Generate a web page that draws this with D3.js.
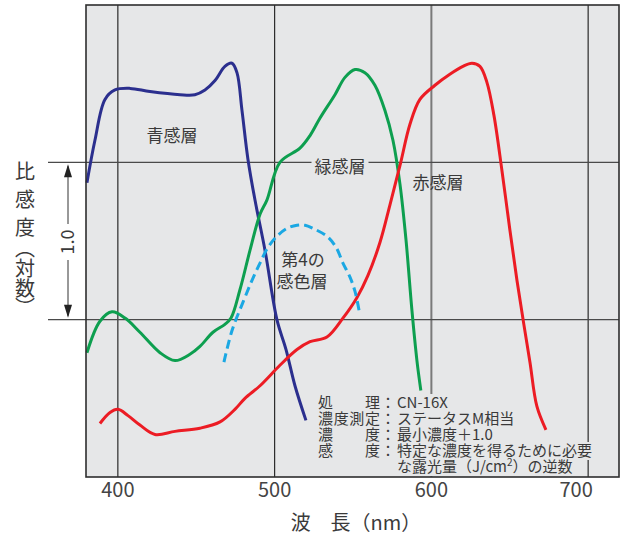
<!DOCTYPE html>
<html>
<head>
<meta charset="utf-8">
<script src="https://cdn.jsdelivr.net/npm/d3@7"></script>
<style>
body { margin: 0; background: #fff; }
text { font-family: "Noto Sans CJK JP", "Noto Sans", sans-serif; fill: #3a3a3a; }
</style>
</head>
<body>
<div id="chart"></div>
<script>
// 波長 (nm) と 比感度 (対数) の読み取り値
var blueNm = [380.6, 385.7, 392.1, 398.5, 408.1, 420.8, 440.0, 449.5, 455.9, 462.3, 468.6, 473.1, 476.3, 479.5, 483.3, 487.8, 494.2, 501.8, 507.6, 513.3, 520.3];
var blueVal = [1.87, 2.14, 2.40, 2.46, 2.47, 2.45, 2.43, 2.43, 2.46, 2.52, 2.61, 2.63, 2.57, 2.33, 2.02, 1.76, 1.44, 1.00, 0.81, 0.58, 0.36];

var greenNm = [380.6, 388.9, 396.6, 404.9, 414.4, 427.2, 436.8, 446.3, 452.7, 461.0, 468.6, 472.5, 478.2, 484.6, 491.0, 495.4, 503.7, 516.5, 522.9, 529.2, 538.8, 545.2, 551.6, 557.9, 564.3, 570.7, 575.8, 580.3, 584.1, 587.9, 591.1, 593.6];
var greenVal = [0.79, 0.99, 1.05, 1.01, 0.92, 0.79, 0.74, 0.78, 0.83, 0.92, 0.97, 1.01, 1.19, 1.44, 1.67, 1.76, 2.00, 2.09, 2.17, 2.28, 2.43, 2.54, 2.59, 2.57, 2.49, 2.33, 2.14, 1.86, 1.51, 1.06, 0.74, 0.55];

var redNm = [388.9, 395.3, 400.4, 406.8, 414.4, 424.0, 436.8, 452.7, 465.5, 475.0, 481.4, 491.0, 503.7, 514.6, 522.9, 533.7, 543.9, 552.8, 559.8, 567.5, 573.9, 580.3, 586.6, 593.0, 602.6, 612.1, 620.4, 626.2, 631.3, 635.7, 640.2, 645.3, 650.4, 654.9, 659.3, 663.2, 667.6, 673.4];
var redVal = [0.34, 0.41, 0.43, 0.39, 0.33, 0.27, 0.29, 0.31, 0.35, 0.43, 0.50, 0.58, 0.71, 0.81, 0.86, 0.89, 1.01, 1.14, 1.28, 1.49, 1.73, 1.98, 2.24, 2.40, 2.49, 2.56, 2.61, 2.63, 2.61, 2.51, 2.30, 1.95, 1.57, 1.25, 0.97, 0.73, 0.45, 0.30];

var fourthNm = [468.0, 473.1, 480.1, 485.9, 491.0, 496.1, 501.8, 508.2, 514.6, 519.7, 524.8, 533.7, 539.5, 543.9, 548.4, 551.6, 554.7];
var fourthVal = [0.73, 0.93, 1.11, 1.25, 1.36, 1.46, 1.53, 1.58, 1.60, 1.60, 1.58, 1.53, 1.46, 1.36, 1.27, 1.18, 1.03];

var xTicks = [400, 500, 600, 700];
var yGrid = [1, 2];

var noteLabels = ["処理", "濃度測定", "濃度", "感度", ""];
var noteValues = ["CN-16X", "ステータスM相当", "最小濃度＋1.0", "特定な濃度を得るために必要", "な露光量（J/cm²）の逆数"];

// SVG 設定
var W = 622, H = 540;
var margin = { top: 5, right: 3, bottom: 63, left: 86 };
var width = W - margin.left - margin.right;
var height = H - margin.top - margin.bottom;
var bg = "#e6e7e8";

var svg = d3.select("#chart").append("svg")
    .attr("width", W)
    .attr("height", H);

var x = d3.scaleLinear().domain([380, 720]).range([margin.left, margin.left + width]);
var y = d3.scaleLinear().domain([0, 3]).range([margin.top + height, margin.top]);

// 背景
svg.append("rect")
    .attr("x", x(380)).attr("y", y(3))
    .attr("width", width).attr("height", height)
    .attr("fill", bg);

// 縦のグリッド
svg.append("g")
    .attr("transform", "translate(0," + y(0) + ")")
    .call(d3.axisBottom(x).tickValues(xTicks).tickSize(-height).tickFormat(""))
    .call(g => g.select(".domain").remove())
    .call(g => g.selectAll("line")
        .attr("stroke", d => d === 600 ? "#7a7a7a" : "#2a2a2a")
        .attr("stroke-width", d => d === 600 ? 2 : 1.2));

// 横のグリッド (左の目盛り線まで)
svg.append("g").selectAll("line")
    .data(yGrid).enter().append("line")
    .attr("x1", 48).attr("x2", x(720))
    .attr("y1", d => y(d)).attr("y2", d => y(d))
    .attr("stroke", "#4a4a4a").attr("stroke-width", 1.2);

// x 軸ラベル
svg.append("g")
    .attr("transform", "translate(0," + y(0) + ")")
    .call(d3.axisBottom(x).tickValues(xTicks).tickSize(0).tickPadding(6))
    .call(g => g.select(".domain").remove())
    .call(g => g.selectAll("text")
        .attr("font-size", 20)
        .attr("dx", d => d === 700 ? -12 : 0)
        .style("fill", "#444"));

svg.append("text")
    .attr("x", 356).attr("y", 530)
    .attr("text-anchor", "middle")
    .attr("font-size", 20)
    .text("波　長（nm）");

// y 軸ラベル (縦書き)
svg.append("text")
    .attr("x", 25).attr("y", 161)
    .attr("font-size", 20)
    .style("writing-mode", "vertical-rl")
    .style("letter-spacing", "8px")
    .text("比感度");
svg.append("text")
    .attr("x", 25).attr("y", 248)
    .attr("font-size", 20)
    .style("writing-mode", "vertical-rl")
    .style("font-feature-settings", "'vpal'")
    .text("（対数）");

// 1.0 の矢印
var ax = 68;
svg.append("line").attr("x1", ax).attr("x2", ax).attr("y1", y(2) + 4).attr("y2", 224)
    .attr("stroke", "#333").attr("stroke-width", 1);
svg.append("line").attr("x1", ax).attr("x2", ax).attr("y1", 260).attr("y2", y(1) - 4)
    .attr("stroke", "#333").attr("stroke-width", 1);
svg.append("path")
    .attr("d", "M" + ax + "," + (y(2) + 2) + "L" + (ax - 4) + "," + (y(2) + 15) + "L" + (ax + 4) + "," + (y(2) + 15) + "Z")
    .attr("fill", "#222");
svg.append("path")
    .attr("d", "M" + ax + "," + (y(1) - 2) + "L" + (ax - 4) + "," + (y(1) - 15) + "L" + (ax + 4) + "," + (y(1) - 15) + "Z")
    .attr("fill", "#222");
svg.append("text")
    .attr("transform", "translate(" + (ax + 6) + ",242) rotate(-90)")
    .attr("text-anchor", "middle")
    .attr("font-size", 18)
    .text("1.0");

// 曲線
var line = d3.line()
    .x(d => x(d[0]))
    .y(d => y(d[1]))
    .curve(d3.curveCatmullRom.alpha(0.5));

var series = [
    { nm: blueNm, val: blueVal, color: "#2b2f8e", dash: null },
    { nm: greenNm, val: greenVal, color: "#0d9f4f", dash: null },
    { nm: redNm, val: redVal, color: "#ec1c24", dash: null },
    { nm: fourthNm, val: fourthVal, color: "#1ba8e3", dash: "9,5" }
];

series.forEach(function(s) {
    svg.append("path")
        .datum(s.nm.map((n, i) => [n, s.val[i]]))
        .attr("d", line)
        .attr("fill", "none")
        .attr("stroke", s.color)
        .attr("stroke-width", 3)
        .attr("stroke-dasharray", s.dash)
        .attr("stroke-linecap", "butt");
});

// 曲線のラベル
function label(txt, cx, cy, withBg) {
    var t = svg.append("text")
        .attr("x", cx).attr("y", cy)
        .attr("text-anchor", "middle")
        .attr("dominant-baseline", "central")
        .attr("font-size", 17)
        .text(txt);
    if (withBg) {
        var b = t.node().getBBox();
        svg.insert("rect", function() { return t.node(); })
            .attr("x", b.x - 3).attr("y", b.y + 3)
            .attr("width", b.width + 6).attr("height", b.height - 6)
            .attr("fill", bg);
    }
}
label("青感層", 172, 134, false);
label("緑感層", 340, 165, true);
label("赤感層", 438, 181, false);
label("第4の", 303, 258, false);
label("感色層", 302, 280, false);

// 注記 (背景を先に、文字を後に)
var noteBg = svg.append("g");
var noteText = svg.append("g");
var fs = 15;
noteLabels.forEach(function(lab, i) {
    var yy = 408 + i * 16;
    var row = noteText.append("g");
    if (lab) {
        row.append("text")
            .attr("x", 318).attr("y", yy)
            .attr("font-size", fs)
            .attr("textLength", 62)
            .attr("lengthAdjust", "spacing")
            .text(lab);
        row.append("text")
            .attr("x", 388).attr("y", yy)
            .attr("text-anchor", "middle")
            .attr("font-size", fs)
            .text("：");
    }
    var v = row.append("text")
        .attr("x", 397).attr("y", yy)
        .attr("font-size", fs);
    if (noteValues[i].indexOf("cm²") >= 0) {
        var parts = noteValues[i].split("cm²");
        v.append("tspan").text(parts[0] + "cm");
        v.append("tspan").attr("font-size", 10).attr("dy", -6).text("2");
        v.append("tspan").attr("dy", 6).text(parts[1]);
    } else {
        v.text(noteValues[i]);
    }
    var b = row.node().getBBox();
    noteBg.append("rect")
        .attr("x", b.x - 2).attr("y", yy - 14)
        .attr("width", b.width + 4).attr("height", 18)
        .attr("fill", bg);
});

// 枠
svg.append("rect")
    .attr("x", x(380)).attr("y", y(3))
    .attr("width", width).attr("height", height)
    .attr("fill", "none")
    .attr("stroke", "#2e2e2e")
    .attr("stroke-width", 1.6);
</script>
</body>
</html>
